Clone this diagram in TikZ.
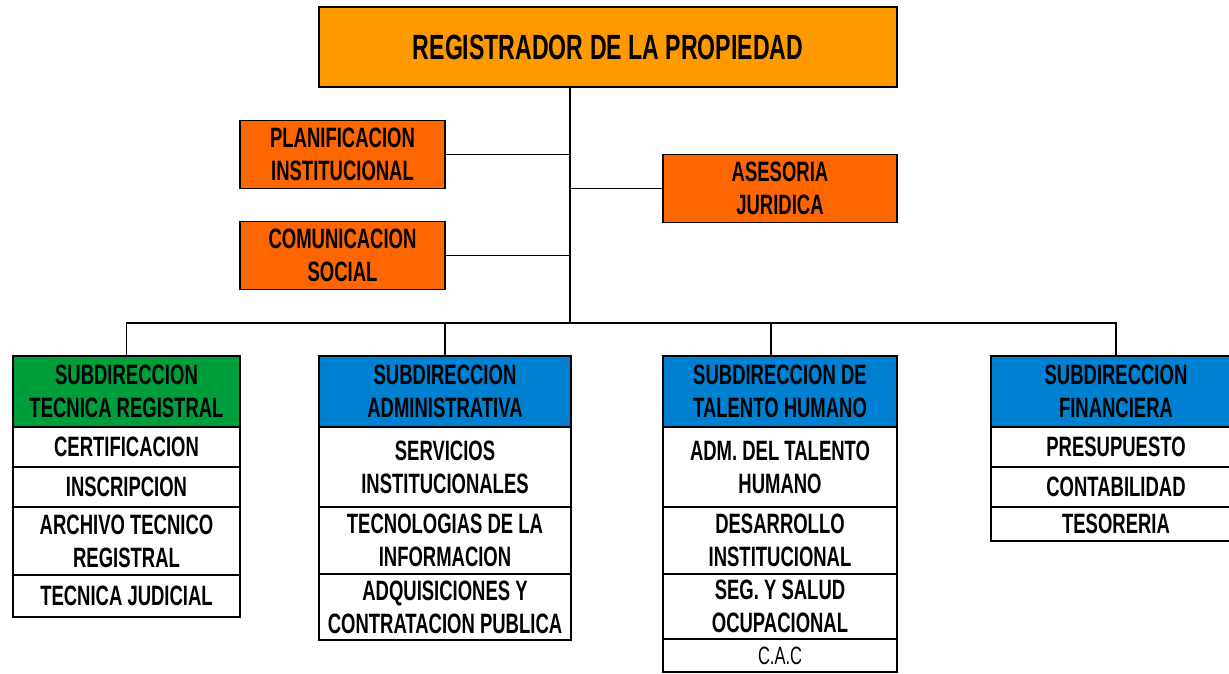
\documentclass[tikz,border=0pt]{standalone}
\usepackage{fontspec}
\setmainfont{Liberation Sans}[FakeStretch=0.66]
\usetikzlibrary{positioning}
\definecolor{naranja}{HTML}{FF9900}
\definecolor{asesor}{HTML}{FF6600}
\definecolor{verde}{HTML}{009E3A}
\definecolor{azul}{HTML}{0080D0}

\begin{document}
\begin{tikzpicture}[x=1pt,y=-1pt,line width=1.6pt,node distance=0pt]
  \tikzset{caja/.style={draw,inner sep=0pt,outer sep=0pt,align=center,
                        font=\fontsize{28}{33}\selectfont\bfseries},
           jefe/.style={caja,fill=naranja,minimum width=578pt,minimum height=80pt,
                        font=\fontsize{35}{40}\selectfont\bfseries},
           staff/.style={caja,fill=asesor,minimum width=205pt,minimum height=68pt},
           sub/.style={caja,minimum height=71pt},
           fila/.style={caja,fill=white},
           c1/.style={minimum width=227pt},
           c2/.style={minimum width=252pt},
           c3/.style={minimum width=234pt},
           c4/.style={minimum width=250pt}}
  \useasboundingbox (0,0) rectangle (1229,673);

  % direccion y asesores
  \node[jefe] (reg) at (608,47) {REGISTRADOR DE LA PROPIEDAD};
  \node[staff] (plan) at (342.5,154.5) {PLANIFICACION\\INSTITUCIONAL};
  \node[staff] (com) at (342.5,255.5) {COMUNICACION\\SOCIAL};
  \node[staff,c3] (ases) at (780,188.5) {ASESORIA\\JURIDICA};

  % subdirecciones
  \node[sub,c1,fill=verde] (tec) at (126.5,391.5) {SUBDIRECCION\\TECNICA REGISTRAL};
  \node[sub,c2,fill=azul] (adm) at (445,391.5) {SUBDIRECCION\\ADMINISTRATIVA};
  \node[sub,c3,fill=azul] (tal) at (780,391.5) {SUBDIRECCION DE\\TALENTO HUMANO};
  \node[sub,c4,fill=azul] (fin) at (1116,391.5) {SUBDIRECCION\\FINANCIERA};

  % unidades
  \node[fila,c1,minimum height=40pt,below=of tec] (cert) {CERTIFICACION};
  \node[fila,c1,minimum height=40pt,below=of cert] (insc) {INSCRIPCION};
  \node[fila,c1,minimum height=68pt,below=of insc] (arch) {ARCHIVO TECNICO\\REGISTRAL};
  \node[fila,c1,minimum height=42pt,below=of arch] (jud) {TECNICA JUDICIAL};

  \node[fila,c2,minimum height=80pt,below=of adm] (serv) {SERVICIOS\\INSTITUCIONALES};
  \node[fila,c2,minimum height=67pt,below=of serv] (tic) {TECNOLOGIAS DE LA\\INFORMACION};
  \node[fila,c2,minimum height=66pt,below=of tic] (adq) {ADQUISICIONES Y\\CONTRATACION PUBLICA};

  \node[fila,c3,minimum height=80pt,below=of tal] (admth) {ADM. DEL TALENTO\\HUMANO};
  \node[fila,c3,minimum height=67pt,below=of admth] (des) {DESARROLLO\\INSTITUCIONAL};
  \node[fila,c3,minimum height=65pt,below=of des] (seg) {SEG. Y SALUD\\OCUPACIONAL};
  \node[fila,c3,minimum height=33pt,below=of seg,font=\fontsize{25}{28}\selectfont] (cac) {C.A.C};

  \node[fila,c4,minimum height=40pt,below=of fin] (pres) {PRESUPUESTO};
  \node[fila,c4,minimum height=40pt,below=of pres] (cont) {CONTABILIDAD};
  \node[fila,c4,minimum height=34pt,below=of cont] (tes) {TESORERIA};

  % conectores
  \coordinate (tronco) at (570,323);
  \coordinate (bajada) at (771,323);
  \draw (reg.south -| tronco) -- (tronco);
  \draw (plan.east) -- (plan.east -| tronco);
  \draw (com.east) -- (com.east -| tronco);
  \draw (ases.west) -- (ases.west -| tronco);
  \draw (tec.north) |- (tronco) -| (fin.north);
  \draw (adm.north) -- (adm.north |- tronco);
  \draw (bajada) -- (bajada |- tal.north);
\end{tikzpicture}
\end{document}
